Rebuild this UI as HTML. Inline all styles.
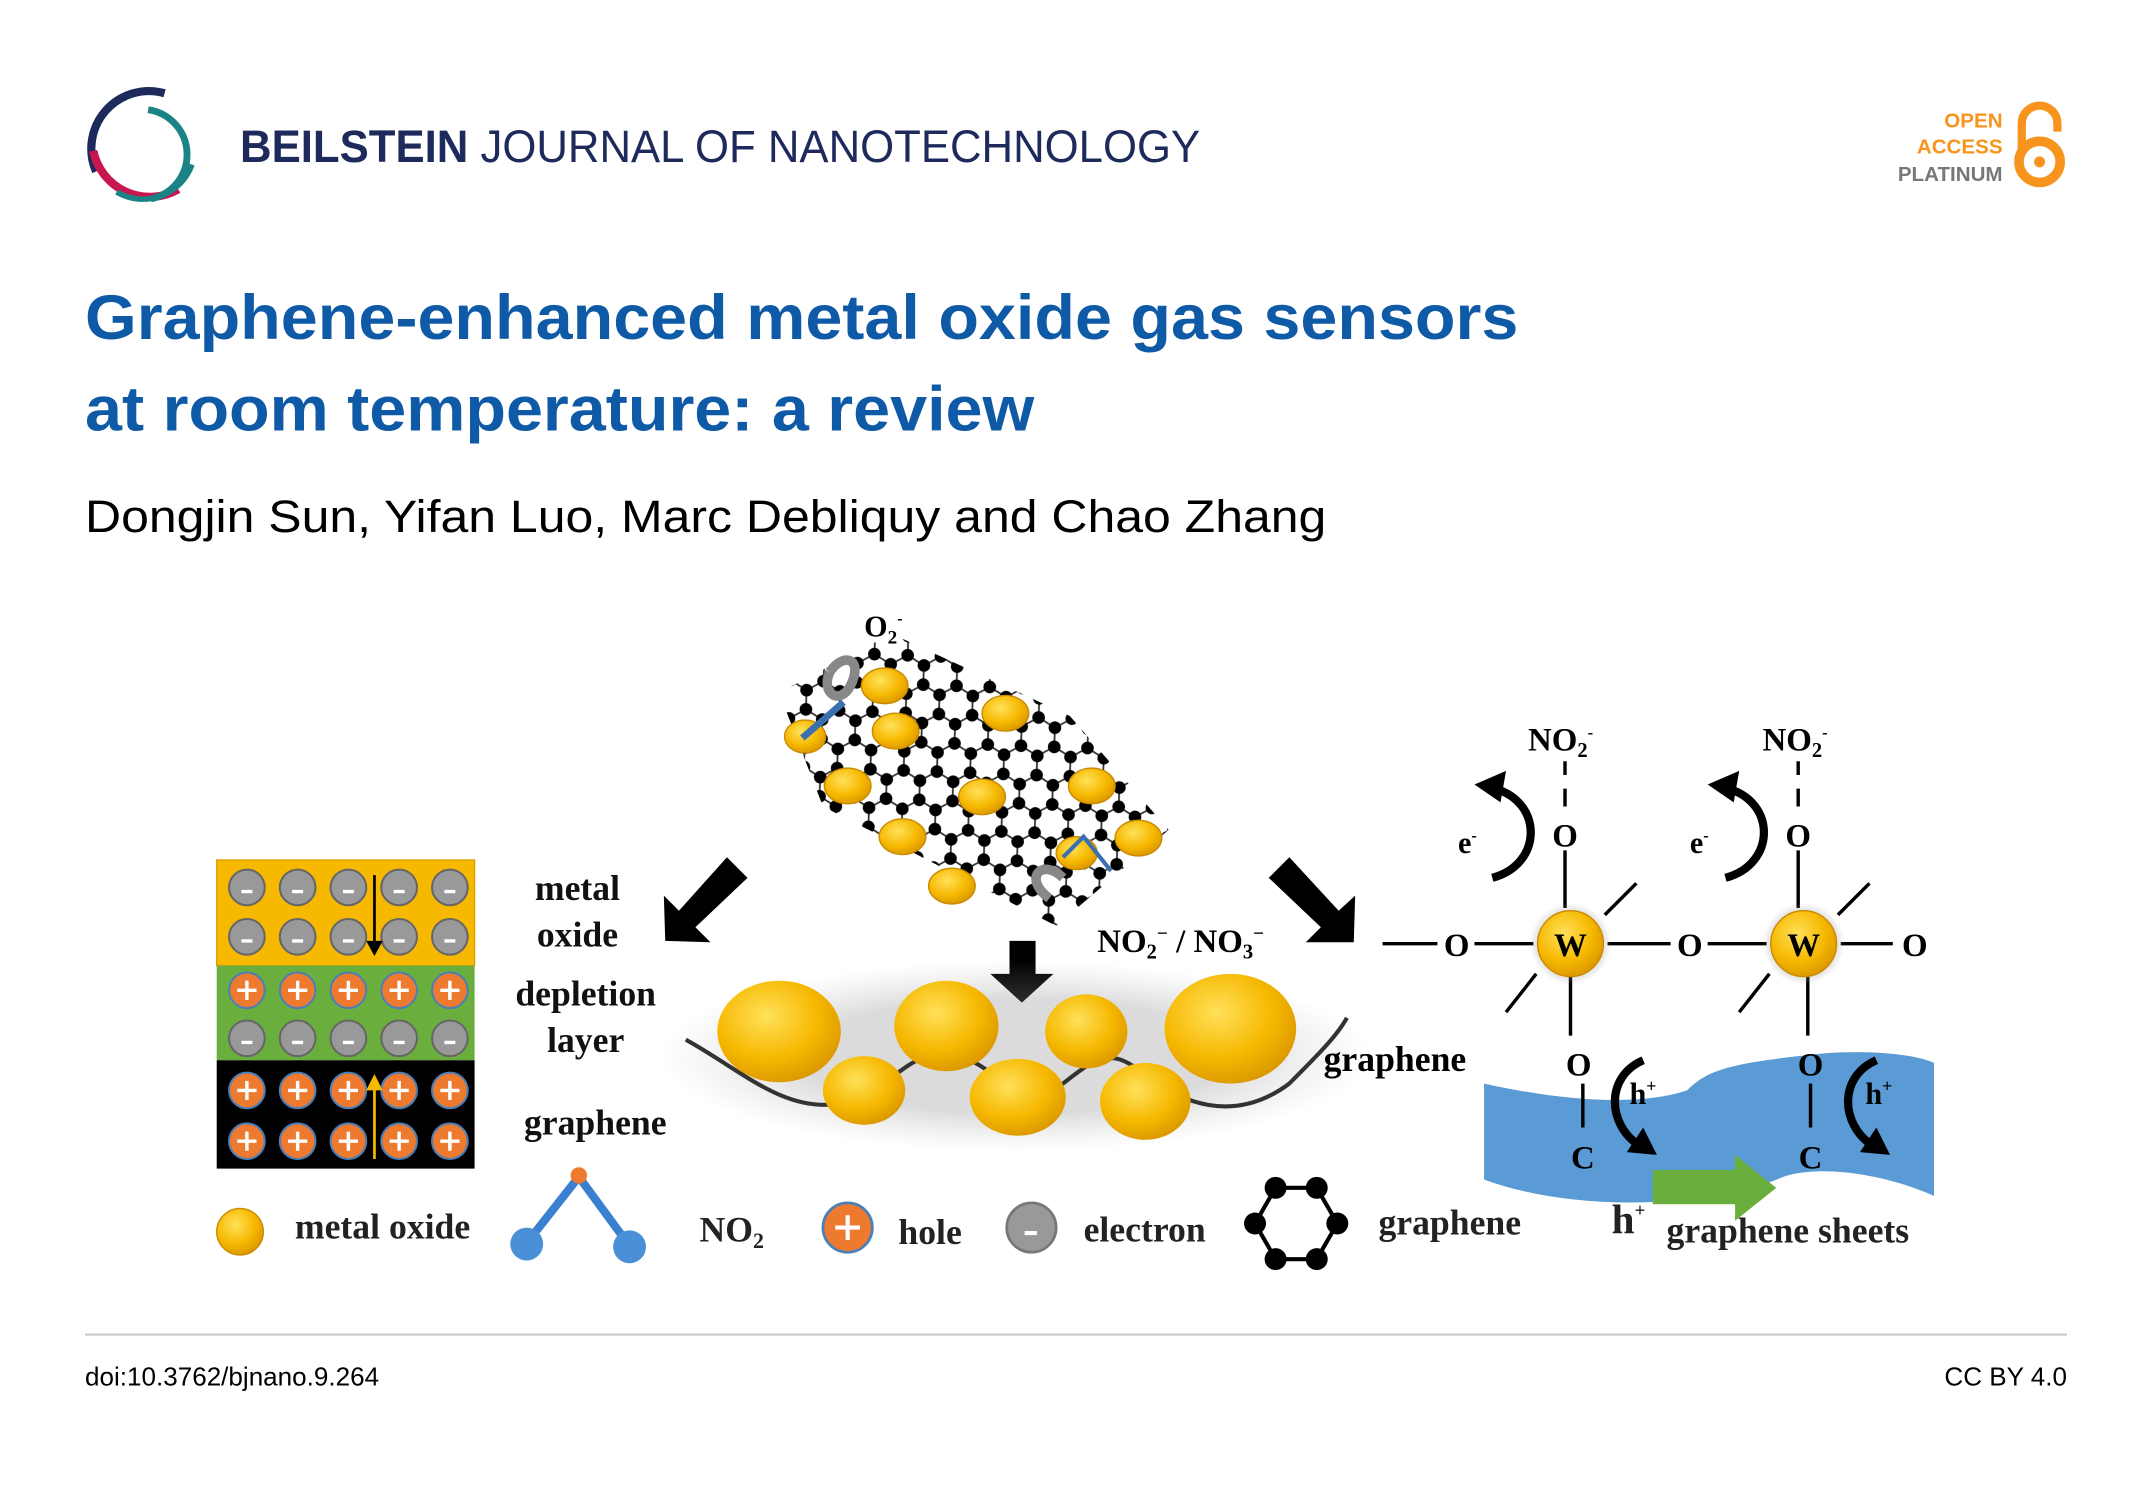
<!DOCTYPE html>
<html><head><meta charset="utf-8"><style>
html,body{margin:0;padding:0;background:#fff;}
svg{display:block;}
.s{font-family:"Liberation Sans",sans-serif;}
.f{font-family:"Liberation Serif",serif;font-weight:bold;}
</style></head><body>
<svg width="2150" height="1486" viewBox="0 0 1567.5 1083.4" preserveAspectRatio="none" xmlns="http://www.w3.org/2000/svg">
<defs>
<pattern id="hex" width="42" height="24.25" patternUnits="userSpaceOnUse" patternTransform="rotate(-28) translate(3,5)">
<g stroke="#333" stroke-width="1.3" fill="none">
<path d="M0,12.12 L7,0 L21,0 L28,12.12 L21,24.25 L7,24.25 Z M28,12.12 L42,12.12"/>
</g>
<g fill="#000"><circle cx="0" cy="12.12" r="4.6"/><circle cx="7" cy="0" r="4.6"/><circle cx="21" cy="0" r="4.6"/><circle cx="28" cy="12.12" r="4.6"/><circle cx="21" cy="24.25" r="4.6"/><circle cx="7" cy="24.25" r="4.6"/><circle cx="42" cy="12.12" r="4.6"/></g>
</pattern>
<radialGradient id="gold" cx="0.4" cy="0.35" r="0.7"><stop offset="0" stop-color="#ffe15a"/><stop offset="0.6" stop-color="#f6b800"/><stop offset="1" stop-color="#d99500"/></radialGradient>
<radialGradient id="glow" cx="0.5" cy="0.5" r="0.5"><stop offset="0.6" stop-color="#888" stop-opacity="0.6"/><stop offset="1" stop-color="#aaa" stop-opacity="0"/></radialGradient>
</defs>

<!-- Logo -->
<path d="M120,68 A42,42 0 0 0 70,125" fill="none" stroke="#1d2a5b" stroke-width="6"/>
<path d="M68,110 A42,42 0 0 0 130,138" fill="none" stroke="#c8174e" stroke-width="6"/>
<path d="M108,80 A33,33 0 0 1 110,145" fill="none" stroke="#1b8385" stroke-width="5"/>
<path d="M85,140 A38,38 0 0 0 140,120" fill="none" stroke="#1b8385" stroke-width="4"/>
<text x="175" y="118" class="s" font-size="33" fill="#1d2a5b" textLength="700" lengthAdjust="spacingAndGlyphs"><tspan font-weight="bold">BEILSTEIN</tspan> JOURNAL OF NANOTECHNOLOGY</text>

<!-- OA -->
<g class="s" font-weight="bold" font-size="15" text-anchor="end">
<text x="1460" y="93" fill="#f7941d">OPEN</text>
<text x="1460" y="112" fill="#f7941d">ACCESS</text>
<text x="1460" y="132" fill="#777">PLATINUM</text>
</g>
<path d="M1474,110 L1474,90 A13,13 0 0 1 1500,90 L1500,96" fill="none" stroke="#f7941d" stroke-width="6"/>
<circle cx="1487" cy="118" r="15" fill="none" stroke="#f7941d" stroke-width="7"/>
<circle cx="1487" cy="118" r="4" fill="#f7941d"/>

<!-- Title -->
<g class="s" font-weight="bold" font-size="46" fill="#0f5aa6">
<text x="62" y="247" textLength="1045" lengthAdjust="spacingAndGlyphs">Graphene-enhanced metal oxide gas sensors</text>
<text x="62" y="314" textLength="692" lengthAdjust="spacingAndGlyphs">at room temperature: a review</text>
</g>
<text x="62" y="388" class="s" font-size="33" fill="#000" textLength="905" lengthAdjust="spacingAndGlyphs">Dongjin Sun, Yifan Luo, Marc Debliquy and Chao Zhang</text>

<!-- Left layered box -->
<rect x="158" y="627" width="188" height="77" fill="#f7b900" stroke="#d9a000"/>
<rect x="158" y="704" width="188" height="69" fill="#6aaf3d"/>
<rect x="158" y="773" width="188" height="79" fill="#000"/>
<g>
<g fill="#999" stroke="#666" stroke-width="1.5">
<circle cx="180" cy="647" r="13"/><circle cx="217" cy="647" r="13"/><circle cx="254" cy="647" r="13"/><circle cx="291" cy="647" r="13"/><circle cx="328" cy="647" r="13"/>
<circle cx="180" cy="683" r="13"/><circle cx="217" cy="683" r="13"/><circle cx="254" cy="683" r="13"/><circle cx="291" cy="683" r="13"/><circle cx="328" cy="683" r="13"/>
<circle cx="180" cy="757" r="13"/><circle cx="217" cy="757" r="13"/><circle cx="254" cy="757" r="13"/><circle cx="291" cy="757" r="13"/><circle cx="328" cy="757" r="13"/>
</g>
<g fill="#ee7a30" stroke="#4a7fb8" stroke-width="1.5">
<circle cx="180" cy="722" r="13"/><circle cx="217" cy="722" r="13"/><circle cx="254" cy="722" r="13"/><circle cx="291" cy="722" r="13"/><circle cx="328" cy="722" r="13"/>
<circle cx="180" cy="795" r="13"/><circle cx="217" cy="795" r="13"/><circle cx="254" cy="795" r="13"/><circle cx="291" cy="795" r="13"/><circle cx="328" cy="795" r="13"/>
<circle cx="180" cy="832" r="13"/><circle cx="217" cy="832" r="13"/><circle cx="254" cy="832" r="13"/><circle cx="291" cy="832" r="13"/><circle cx="328" cy="832" r="13"/>
</g>
<g stroke="#fff" stroke-width="2.5">
<path d="M173,722h14M180,715v14M210,722h14M217,715v14M247,722h14M254,715v14M284,722h14M291,715v14M321,722h14M328,715v14"/>
<path d="M173,795h14M180,788v14M210,795h14M217,788v14M247,795h14M254,788v14M284,795h14M291,788v14M321,795h14M328,788v14"/>
<path d="M173,832h14M180,825v14M210,832h14M217,825v14M247,832h14M254,825v14M284,832h14M291,825v14M321,832h14M328,825v14"/>
<path d="M176,650h8M213,650h8M250,650h8M287,650h8M324,650h8M176,686h8M213,686h8M250,686h8M287,686h8M324,686h8M176,760h8M213,760h8M250,760h8M287,760h8M324,760h8"/>
</g>
</g>
<path d="M273,638 V690" stroke="#000" stroke-width="2"/><path d="M267,686 L273,697 L279,686Z"/>
<path d="M273,845 V792" stroke="#f7b900" stroke-width="2"/><path d="M267,795 L273,783 L279,795Z" fill="#f7b900"/>
<g class="f" font-size="26" text-anchor="middle" fill="#111">
<text x="421" y="656">metal</text><text x="421" y="690">oxide</text>
<text x="427" y="733">depletion</text><text x="427" y="767">layer</text>
<text x="434" y="827">graphene</text>
</g>

<!-- block arrows -->
<g fill="#000">
<path d="M530,625 L545,640 L507,676 L518,687 L485,686 L484,653 L495,664Z"/>
<path d="M736,686 H755 V710 H768 L745,731 L722,710 H736Z"/>
<path d="M940,625 L925,640 L963,676 L952,687 L987,687 L988,653 L976,664Z"/>
</g>

<!-- graphene sheet -->
<polygon points="568,505 650,462 780,522 852,605 770,675 600,588" fill="url(#hex)"/>
<g fill="url(#gold)" stroke="#c98a00" stroke-width="1">
<ellipse cx="645" cy="500" rx="17" ry="13"/><ellipse cx="733" cy="520" rx="17" ry="13"/><ellipse cx="587" cy="537" rx="15" ry="12"/><ellipse cx="653" cy="533" rx="17" ry="13"/><ellipse cx="618" cy="573" rx="17" ry="13"/><ellipse cx="716" cy="581" rx="17" ry="13"/><ellipse cx="796" cy="573" rx="17" ry="13"/><ellipse cx="658" cy="610" rx="17" ry="13"/><ellipse cx="830" cy="611" rx="17" ry="13"/><ellipse cx="785" cy="622" rx="15" ry="12"/><ellipse cx="694" cy="646" rx="17" ry="13"/>
</g>
<path d="M605,490 C615,475 630,480 620,500 C612,515 598,505 605,490" fill="none" stroke="#888" stroke-width="7"/>
<path d="M585,538 L615,512" stroke="#3a6fb0" stroke-width="5"/>
<path d="M765,655 C745,640 760,625 775,640" fill="none" stroke="#888" stroke-width="7"/>
<path d="M775,625 L790,610 L810,635" fill="none" stroke="#3a6fb0" stroke-width="3"/>
<text x="630" y="464" class="f" font-size="22">O<tspan font-size="14" dy="5">2</tspan><tspan font-size="12" dy="-14">-</tspan></text>

<!-- middle particles -->
<ellipse cx="740" cy="770" rx="260" ry="70" fill="url(#glow)" opacity="0.5"/>
<path d="M500,758 C540,780 570,810 610,805 C650,800 660,760 700,770 C730,780 740,810 775,790 C800,770 810,765 830,780 C860,805 900,820 940,790 C960,770 975,755 982,742" fill="none" stroke="#333" stroke-width="3"/>
<g fill="url(#gold)">
<ellipse cx="568" cy="752" rx="45" ry="37"/><ellipse cx="690" cy="748" rx="38" ry="33"/><ellipse cx="792" cy="752" rx="30" ry="27"/><ellipse cx="897" cy="750" rx="48" ry="40"/>
<ellipse cx="630" cy="795" rx="30" ry="25"/><ellipse cx="742" cy="800" rx="35" ry="28"/><ellipse cx="835" cy="803" rx="33" ry="28"/>
</g>
<text x="800" y="694" class="f" font-size="24">NO<tspan font-size="15" dy="5">2</tspan><tspan font-size="14" dy="-14">−</tspan><tspan dy="9"> / NO</tspan><tspan font-size="15" dy="5">3</tspan><tspan font-size="14" dy="-14">−</tspan></text>
<text x="965" y="781" class="f" font-size="26">graphene</text>

<!-- right: blue sheet -->
<path d="M1082,790 C1150,805 1200,805 1230,795 C1245,780 1260,775 1330,768 C1370,765 1400,770 1410,775 V872 C1380,858 1330,848 1300,858 C1250,880 1150,885 1082,860 Z" fill="#5b9bd5"/>
<path d="M1205,853 H1265 V842 L1295,866 L1265,890 V878 H1205Z" fill="#6aaf3d"/>
<g stroke="#000" stroke-width="2.5">
<path d="M1008,688 H1048 M1075,688 H1118 M1172,688 H1218 M1245,688 H1288 M1342,688 H1380"/>
<path d="M1141,555 V565 M1141,575 V588 M1141,620 V662 M1145,712 V755 M1154,790 V822"/>
<path d="M1311,555 V565 M1311,575 V588 M1311,620 V662 M1318,712 V755 M1320,790 V822"/>
<path d="M1170,667 L1193,644 M1120,710 L1098,738 M1340,667 L1363,644 M1290,710 L1268,738"/>
</g>
<circle cx="1145" cy="688" r="30" fill="url(#glow)"/><circle cx="1315" cy="688" r="30" fill="url(#glow)"/>
<circle cx="1145" cy="688" r="24" fill="url(#gold)" stroke="#c98a00"/><circle cx="1315" cy="688" r="24" fill="url(#gold)" stroke="#c98a00"/>
<g class="f" font-size="24" text-anchor="middle">
<text x="1062" y="697">O</text><text x="1232" y="697">O</text><text x="1396" y="697">O</text>
<text x="1145" y="697">W</text><text x="1315" y="697">W</text>
<text x="1141" y="617">O</text><text x="1311" y="617">O</text>
<text x="1151" y="784">O</text><text x="1320" y="784">O</text>
<text x="1154" y="852">C</text><text x="1320" y="852">C</text>
</g>
<text x="1114" y="547" class="f" font-size="24">NO<tspan font-size="15" dy="5">2</tspan><tspan font-size="12" dy="-14">-</tspan></text>
<text x="1285" y="547" class="f" font-size="24">NO<tspan font-size="15" dy="5">2</tspan><tspan font-size="12" dy="-14">-</tspan></text>
<g class="f" font-size="22"><text x="1063" y="622">e<tspan font-size="12" dy="-9">-</tspan></text><text x="1232" y="622">e<tspan font-size="12" dy="-9">-</tspan></text>
<text x="1188" y="805">h<tspan font-size="13" dy="-9">+</tspan></text><text x="1360" y="805">h<tspan font-size="13" dy="-9">+</tspan></text></g>
<g fill="none" stroke="#000" stroke-width="6">
<path d="M1090,575 C1125,585 1125,630 1088,640"/><path d="M1260,575 C1295,585 1295,630 1258,640"/>
<path d="M1198,773 C1170,785 1172,820 1195,835"/><path d="M1368,773 C1340,785 1342,820 1365,835"/>
</g>
<g fill="#000">
<path d="M1075,572 L1098,562 L1094,585Z"/><path d="M1245,572 L1268,562 L1264,585Z"/>
<path d="M1186,840 L1208,842 L1198,822Z"/><path d="M1356,840 L1378,842 L1368,822Z"/>
</g>

<!-- legend -->
<ellipse cx="175" cy="898" rx="17" ry="17" fill="url(#gold)" stroke="#c98a00"/>
<g class="f" font-size="26" fill="#222">
<text x="215" y="903">metal oxide</text>
<text x="510" y="905">NO<tspan font-size="16" dy="5">2</tspan></text>
<text x="655" y="907">hole</text>
<text x="790" y="905">electron</text>
<text x="1005" y="900">graphene</text>
<text x="1175" y="899" font-size="30">h<tspan font-size="14" dy="-12">+</tspan></text>
<text x="1215" y="906">graphene sheets</text>
</g>
<path d="M385,905 L422,858 L458,907" fill="none" stroke="#3a7fd0" stroke-width="6"/>
<circle cx="422" cy="857" r="6" fill="#ee7a30"/><circle cx="384" cy="907" r="12" fill="#4a90d9"/><circle cx="459" cy="909" r="12" fill="#4a90d9"/>
<circle cx="618" cy="895" r="18" fill="#ee7a30" stroke="#4a7fb8" stroke-width="2"/><path d="M609,895h18M618,886v18" stroke="#fff" stroke-width="3"/>
<circle cx="752" cy="895" r="18" fill="#999" stroke="#777" stroke-width="2"/><path d="M747,899h9" stroke="#fff" stroke-width="3"/>
<path d="M930,866 L960,866 L975,892 L960,918 L930,918 L915,892Z" fill="none" stroke="#000" stroke-width="3"/>
<g fill="#000"><circle cx="930" cy="866" r="8"/><circle cx="960" cy="866" r="8"/><circle cx="975" cy="892" r="8"/><circle cx="960" cy="918" r="8"/><circle cx="930" cy="918" r="8"/><circle cx="915" cy="892" r="8"/></g>

<!-- footer -->
<line x1="62" y1="973" x2="1507" y2="973" stroke="#ccc" stroke-width="1.5"/>
<text x="62" y="1010" class="s" font-size="19" fill="#000">doi:10.3762/bjnano.9.264</text>
<text x="1507" y="1010" class="s" font-size="19" fill="#000" text-anchor="end">CC BY 4.0</text>
</svg>
</body></html>
